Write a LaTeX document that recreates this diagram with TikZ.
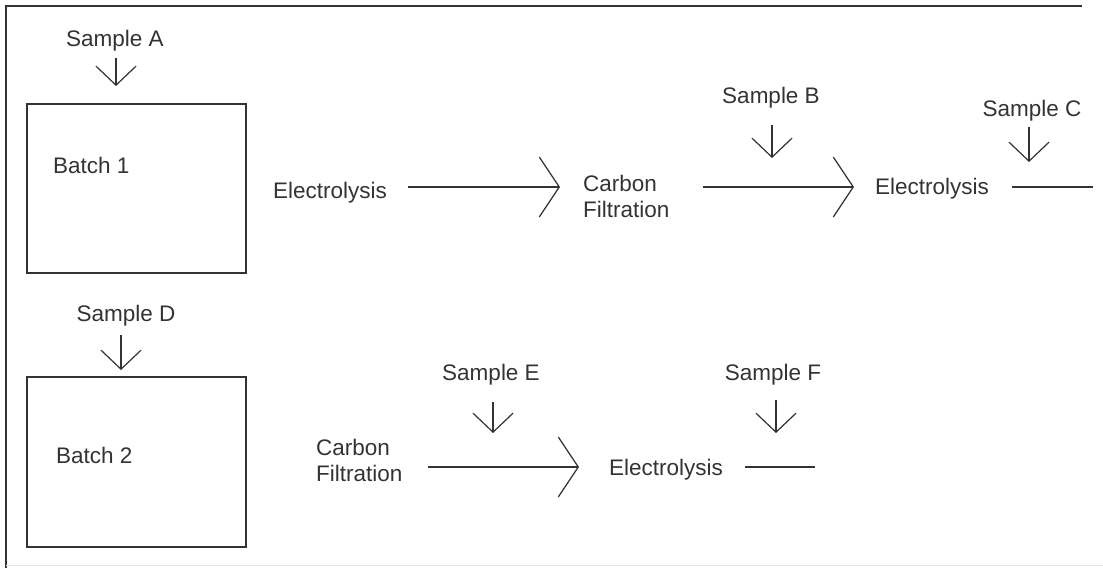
\documentclass[tikz,border=0pt]{standalone}
\usepackage{fontspec}
\setmainfont{Liberation Sans}
\usetikzlibrary{arrows.meta}

\begin{document}
\begin{tikzpicture}[x=1pt, y=-1pt,
  txt/.style={font=\fontsize{22.5}{26}\selectfont, inner sep=0pt, anchor=base west, align=left, text=black!80},
  flow/.style={line width=1.2pt, draw=black!80, -{Straight Barb[length=20pt, width=60pt]}},
  drop/.style={line width=1.2pt, draw=black!80, -{Straight Barb[length=19pt, width=40pt]}},
  plain/.style={line width=1.2pt, draw=black!80}]
\useasboundingbox (0,0) rectangle (1103,568);

% Frame
\draw[plain] (6,568) -- (6,6) -- (1082,6);
\draw[gray!20, line width=1pt] (6,565) -- (1103,565);

% Rows
\coordinate (row1) at (0,187);
\coordinate (row2) at (0,467);

% Batch 1
\node[draw=black!80, line width=1.2pt, minimum width=219pt, minimum height=169pt] (box1) at (136.5,188.5) {};
\node[txt] (batch1) at (53,173) {Batch 1};
\node[txt, anchor=base] (sA) at (115,46) {Sample A};
\coordinate (tA) at (116,86);
\draw[drop, shorten <=7pt] (tA |- sA.south) -- (tA);

% Line 1
\node[txt] (elec1) at (273,198) {Electrolysis};
\node[txt, anchor=north west] (carb1) at (583,175) {Carbon\\Filtration};
\node[txt] (elec2) at (875,194) {Electrolysis};
\draw[flow, shorten <=21pt, shorten >=23pt] (elec1.east |- row1) -- (carb1.west |- row1);
\draw[flow, shorten <=33pt, shorten >=21pt] (carb1.east |- row1) -- (elec2.west |- row1);
\coordinate (endB) at (1093,187);
\draw[plain, shorten <=23pt] (elec2.east |- row1) -- (endB);

% Samples B and C
\node[txt, anchor=base] (sB) at (771,103) {Sample B};
\coordinate (tB) at (772,158);
\draw[drop, shorten <=17pt] (tB |- sB.south) -- (tB);
\node[txt, anchor=base] (sC) at (1032,116) {Sample C};
\coordinate (tC) at (1029,162);
\draw[drop, shorten <=6pt] (tC |- sC.south) -- (tC);

% Batch 2
\node[draw=black!80, line width=1.2pt, minimum width=219pt, minimum height=170pt] (box2) at (136.5,462) {};
\node[txt] (batch2) at (56,463) {Batch 2};
\node[txt, anchor=base] (sD) at (126,321) {Sample D};
\coordinate (tD) at (121,370);
\draw[drop, shorten <=9pt] (tD |- sD.south) -- (tD);

% Line 2
\node[txt, anchor=north west] (carb2) at (316,439) {Carbon\\Filtration};
\node[txt] (elec3) at (609,475) {Electrolysis};
\draw[flow, shorten <=25pt, shorten >=30pt] (carb2.east |- row2) -- (elec3.west |- row2);
\coordinate (endF) at (815,467);
\draw[plain, shorten <=22pt] (elec3.east |- row2) -- (endF);

% Samples E and F
\node[txt, anchor=base] (sE) at (491,380) {Sample E};
\coordinate (tE) at (493,433);
\draw[drop, shorten <=17pt] (tE |- sE.south) -- (tE);
\node[txt, anchor=base] (sF) at (773,380) {Sample F};
\coordinate (tF) at (776,433);
\draw[drop, shorten <=15pt] (tF |- sF.south) -- (tF);

\end{tikzpicture}
\end{document}
